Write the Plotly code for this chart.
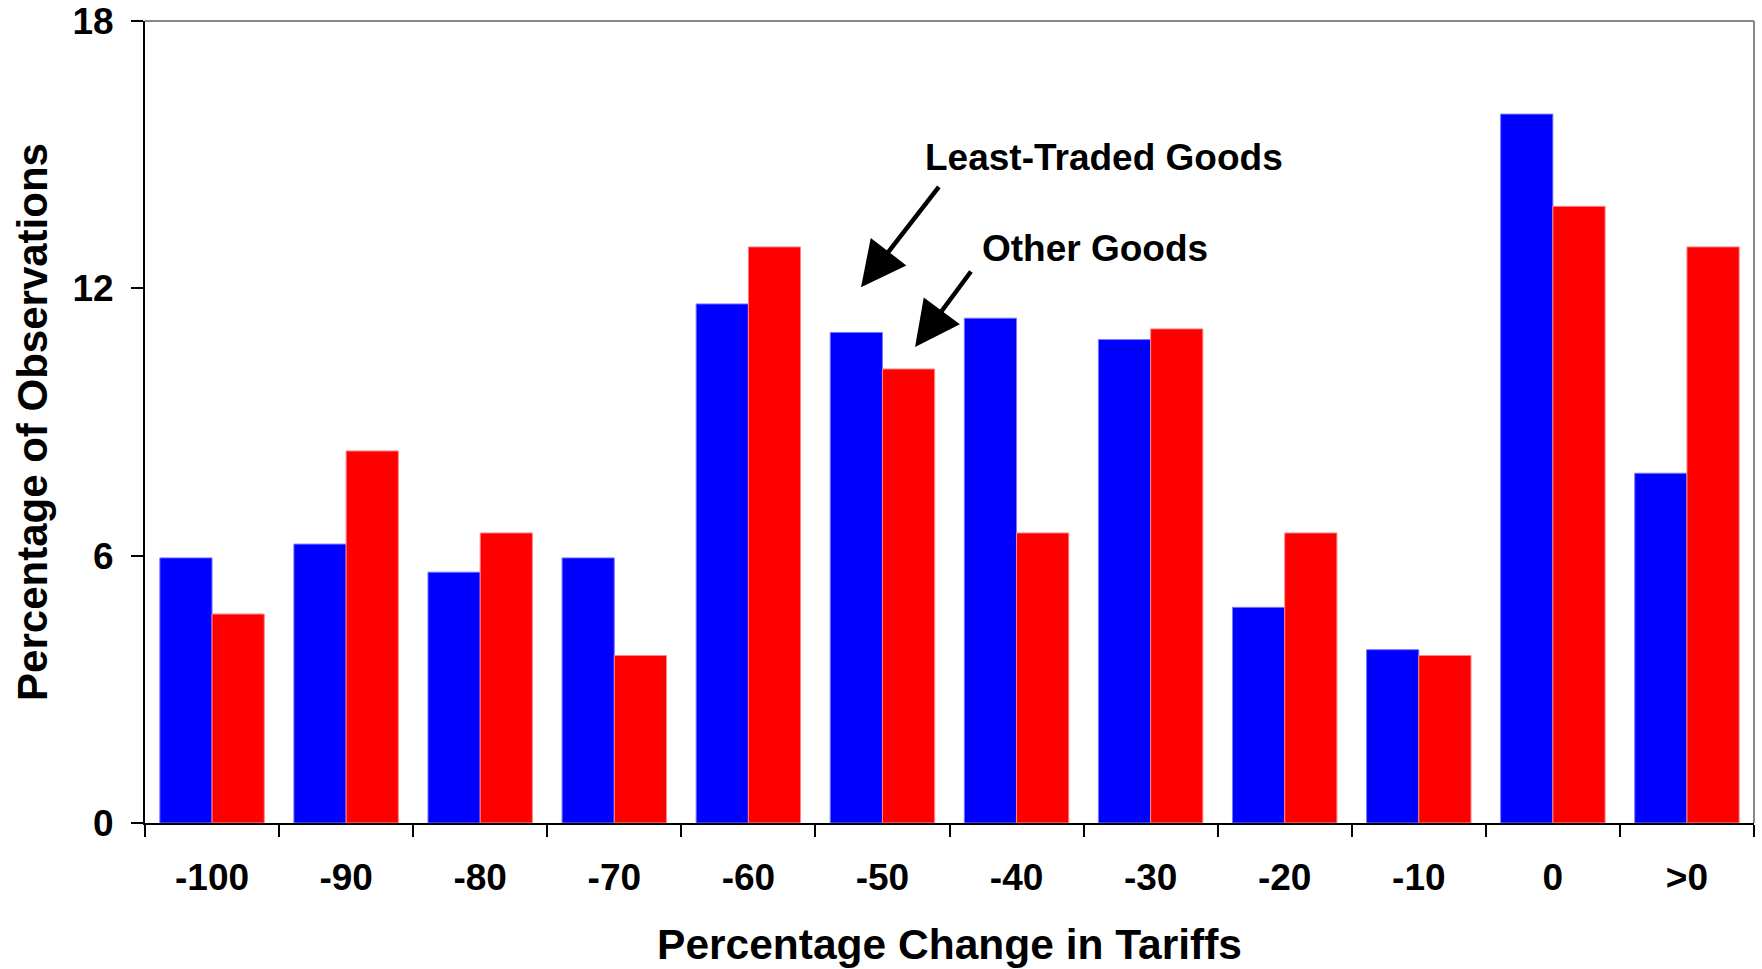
import plotly.graph_objects as go

# Tariff-change bins (percent) on the horizontal axis
categories = ["-100", "-90", "-80", "-70", "-60", "-50", "-40", "-30", "-20", "-10", "0", ">0"]

# Share of observations (%) falling in each bin
least_traded = [5.95, 6.26, 5.63, 5.95, 11.65, 11.01, 11.33, 10.85, 4.84, 3.89, 15.91, 7.85]
other_goods = [4.69, 8.35, 6.51, 3.76, 12.93, 10.19, 6.51, 11.09, 6.51, 3.76, 13.84, 12.93]

y_ticks = [0, 6, 12, 18]

FONT = "Liberation Sans, Arial, sans-serif"

fig = go.Figure()
fig.add_trace(go.Bar(
    x=categories, y=least_traded, name="Least-Traded Goods",
    marker=dict(color="#0000ff", line=dict(color="#7777ff", width=1)),
))
fig.add_trace(go.Bar(
    x=categories, y=other_goods, name="Other Goods",
    marker=dict(color="#ff0000", line=dict(color="#ff8888", width=1)),
))

fig.update_layout(
    width=1762, height=969,
    margin=dict(l=145, r=8, t=21, b=146),
    paper_bgcolor="white", plot_bgcolor="white",
    barmode="group", bargap=0.221, bargroupgap=0,
    showlegend=False,
    font=dict(family=FONT, color="black", size=37, weight="bold"),
)

fig.update_xaxes(
    type="category", tickson="boundaries", automargin=False,
    ticks="outside", ticklen=12, tickwidth=1.5, tickcolor="black",
    showline=True, linecolor="black", linewidth=2,
    showgrid=False, zeroline=False,
    tickfont=dict(family=FONT, size=37, weight="bold"),
    ticklabelstandoff=21,
    title=dict(text="Percentage Change in Tariffs",
               font=dict(family=FONT, size=42.5, weight="bold"), standoff=32),
)
fig.update_yaxes(
    range=[0, 18], tickvals=y_ticks, automargin=False,
    ticks="outside", ticklen=12, tickwidth=1.5, tickcolor="black",
    showline=True, linecolor="black", linewidth=2,
    showgrid=False, zeroline=False,
    tickfont=dict(family=FONT, size=37, weight="bold"),
    ticklabelstandoff=10,
    title=dict(text="Percentage of Observations",
               font=dict(family=FONT, size=42, weight="bold"), standoff=12),
)

# Light grey frame on the top and right of the plot area
fig.add_shape(type="line", xref="paper", yref="paper", x0=0, x1=1, y0=1, y1=1,
              line=dict(color="#888888", width=2))
fig.add_shape(type="line", xref="paper", yref="paper", x0=1, x1=1, y0=0, y1=1,
              line=dict(color="#888888", width=2))

# Series labels with pointer arrows
arrow = dict(showarrow=True, arrowhead=2, arrowsize=2, arrowwidth=4.5,
             arrowcolor="black", xref="paper", yref="paper", text="")
fig.add_annotation(x=0.445, y=0.668, ax=79, ay=-102, **arrow)
fig.add_annotation(x=0.4786, y=0.5935, ax=57, ay=-77, **arrow)

label = dict(xref="paper", yref="paper", showarrow=False,
             xanchor="center", yanchor="middle",
             font=dict(family=FONT, size=37, weight="bold", color="black"))
fig.add_annotation(x=0.596, y=0.8304, text="Least-Traded Goods", **label)
fig.add_annotation(x=0.5904, y=0.7163, text="Other Goods", **label)

fig.write_html("out.html")
